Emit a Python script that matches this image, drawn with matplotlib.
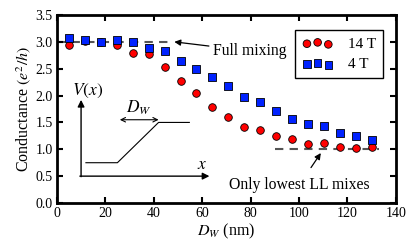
import matplotlib
matplotlib.use("Agg")
import matplotlib.pyplot as plt

plt.rcParams['font.family'] = ['Liberation Serif', 'DejaVu Serif']
plt.rcParams['mathtext.fontset'] = 'stix'

# widths in nm
dw = [5, 11.6, 18.2, 24.7, 31.3, 37.9, 44.5, 51.1, 57.6, 64.2,
      70.8, 77.4, 83.9, 90.5, 97.1, 103.7, 110.3, 116.8, 123.4, 130]
g_14T = [2.95, 3.01, 3.0, 2.94, 2.80, 2.77, 2.54, 2.27, 2.04, 1.79,
         1.60, 1.42, 1.36, 1.24, 1.19, 1.10, 1.11, 1.05, 1.03, 1.04]
g_4T = [3.07, 3.03, 3.00, 3.03, 2.99, 2.89, 2.83, 2.65, 2.49, 2.35,
        2.18, 1.97, 1.88, 1.71, 1.56, 1.47, 1.43, 1.30, 1.25, 1.17]

full_mix = 3.0
lowest_mix = 1.0

fig = plt.figure(figsize=(4.15, 2.5), dpi=100)
ax = fig.add_axes([0.137, 0.188, 0.817, 0.752])

ax.plot([0, 48], [full_mix, full_mix], ls=(0, (4, 3)), color='#555555', lw=1.5, zorder=1)
ax.plot([90, 133], [lowest_mix, lowest_mix], ls=(0, (4, 3)), color='#555555', lw=1.5, zorder=1)

ax.scatter(dw, g_14T, s=30, marker='o', facecolor='#ff0000', edgecolor='black', lw=0.6, label='14 T', zorder=3)
ax.scatter(dw, g_4T, s=30, marker='s', facecolor='#0022ff', edgecolor='black', lw=0.6, label='4 T', zorder=4)

ax.annotate('Full mixing', xy=(48.5, 3.0), xytext=(64.5, 2.83), fontsize=11.3, va='center',
            arrowprops=dict(arrowstyle='-|>', color='black', lw=0.9, shrinkA=1, shrinkB=0,
                            mutation_scale=9))
ax.annotate('Only lowest LL mixes', xy=(109, 0.93), xytext=(100, 0.33), fontsize=11.3,
            ha='center', va='center',
            arrowprops=dict(arrowstyle='-|>', color='black', lw=0.9, shrinkA=6, shrinkB=0,
                            mutation_scale=9))

# sketch of the potential
ax.annotate('', xy=(10, 1.92), xytext=(10, 0.49),
            arrowprops=dict(arrowstyle='-|>', color='black', lw=1.0, shrinkA=0, shrinkB=0,
                            mutation_scale=10))
ax.annotate('', xy=(63, 0.5), xytext=(9.5, 0.5),
            arrowprops=dict(arrowstyle='-|>', color='black', lw=1.0, shrinkA=0, shrinkB=0,
                            mutation_scale=10))
ax.plot([12, 25, 42, 54.7], [0.75, 0.75, 1.5, 1.5], color='black', lw=0.8)
ax.annotate('', xy=(26, 1.55), xytext=(42, 1.55),
            arrowprops=dict(arrowstyle='<->', color='black', lw=0.8, shrinkA=0, shrinkB=0,
                            mutation_scale=8))
ax.text(34, 1.78, '$D_W$', fontsize=12.5, ha='center', va='center')
ax.text(12.5, 2.08, '$V(x)$', fontsize=12.5, ha='center', va='center')
ax.text(60, 0.7, '$x$', fontsize=12.5, ha='center', va='center')

ax.set_xlim(0, 140)
ax.set_ylim(0, 3.5)
ax.set_xticks(range(0, 141, 20))
ax.set_yticks([0.0, 0.5, 1.0, 1.5, 2.0, 2.5, 3.0, 3.5])
ax.set_yticklabels(['0.0', '0.5', '1.0', '1.5', '2.0', '2.5', '3.0', '3.5'])
ax.tick_params(direction='in', top=True, right=True, length=4, width=1.5, labelsize=10, pad=3)
for sp in ax.spines.values():
    sp.set_linewidth(2)

ax.set_xlabel('$D_W$ (nm)', fontsize=11.5, labelpad=1)
ax.set_ylabel('Conductance $(e^2/h)$', fontsize=11.5, labelpad=2)

leg = ax.legend(loc='upper right', fontsize=11, scatterpoints=3, fancybox=False,
                framealpha=1, edgecolor='black', borderpad=0.45, handletextpad=1.0,
                labelspacing=0.45, bbox_to_anchor=(0.985, 0.96))
leg.get_frame().set_linewidth(1.0)

fig.savefig('out.png', dpi=100)
